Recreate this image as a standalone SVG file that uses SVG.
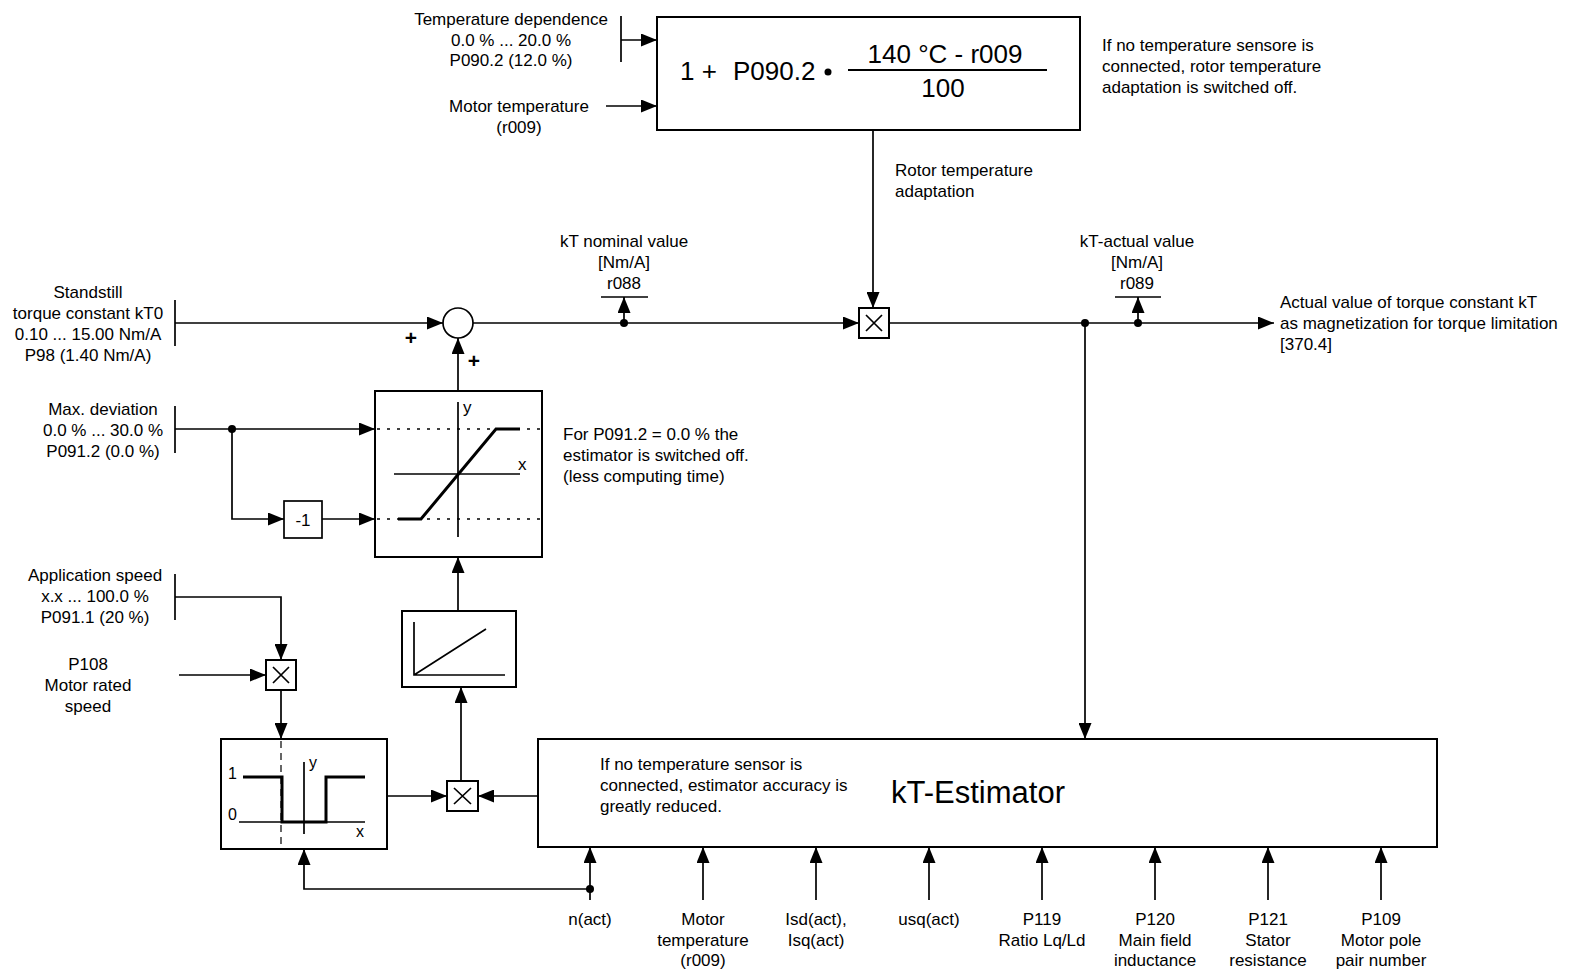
<svg xmlns="http://www.w3.org/2000/svg" width="1572" height="972" viewBox="0 0 1572 972">
<style>
text{font-family:"Liberation Sans",Arial,sans-serif;font-size:17px;fill:#000}
.c{text-anchor:middle}
.ln{stroke:#000;stroke-width:1.7;fill:none}
.bx{stroke:#000;stroke-width:2;fill:#fff}
.tk{stroke:#000;stroke-width:3;fill:none}
.dt{stroke:#000;stroke-width:1.5;stroke-dasharray:3,7;fill:none}
.ds{stroke:#000;stroke-width:1.2;stroke-dasharray:7,5;fill:none}
.pl{font-size:21px;font-weight:bold}
</style>
<defs>
<marker id="ah" viewBox="0 0 16 13" refX="16" refY="6.5" markerWidth="16" markerHeight="13" orient="auto" markerUnits="userSpaceOnUse"><path d="M0,0 L16,6.5 L0,13 z" fill="#000"/></marker>
</defs>
<rect width="1572" height="972" fill="#fff"/>

<g id="formula">
<rect class="bx" x="657" y="17" width="423" height="113"/>
<text x="680" y="80" style="font-size:26px">1 +</text>
<text x="733" y="80" style="font-size:26px">P090.2</text>
<circle cx="828" cy="72" r="3.5" fill="#000"/>
<line class="ln" x1="848" y1="70" x2="1047" y2="70" style="stroke-width:2"/>
<text x="945" y="63" class="c" style="font-size:26px">140 °C - r009</text>
<text x="943" y="97" class="c" style="font-size:26px">100</text>
</g>
<g id="formula-note">
<text x="1102" y="51">If no temperature sensore is</text>
<text x="1102" y="72">connected, rotor temperature</text>
<text x="1102" y="93">adaptation is switched off.</text>
</g>
<g id="temp-dependence">
<text x="511" y="25" class="c">Temperature dependence</text>
<text x="511" y="46" class="c">0.0 % ... 20.0 %</text>
<text x="511" y="66" class="c">P090.2 (12.0 %)</text>
<line class="ln" x1="621" y1="16" x2="621" y2="62"/>
</g>
<g id="motor-temp-in">
<text x="519" y="112" class="c">Motor temperature</text>
<text x="519" y="133" class="c">(r009)</text>
</g>
<g id="rotor-label">
<text x="895" y="176">Rotor temperature</text>
<text x="895" y="197">adaptation</text>
</g>

<g id="standstill">
<text x="88" y="298" class="c">Standstill</text>
<text x="88" y="319" class="c">torque constant kT0</text>
<text x="88" y="340" class="c">0.10 ... 15.00 Nm/A</text>
<text x="88" y="361" class="c">P98 (1.40 Nm/A)</text>
<line class="ln" x1="175" y1="300" x2="175" y2="346"/>
</g>
<g id="sum">
<circle cx="458" cy="323" r="15" class="bx" style="stroke-width:1.7"/>
<text x="411" y="345" class="c pl">+</text>
<text x="474" y="368" class="c pl">+</text>
</g>
<g id="mult-rotor">
<rect class="bx" x="859" y="308" width="30" height="30"/>
<path class="ln" d="M866,315 L882,331 M882,315 L866,331"/>
</g>
<g id="kt-nominal">
<text x="624" y="247" class="c">kT nominal value</text>
<text x="624" y="268" class="c">[Nm/A]</text>
<text x="624" y="289" class="c">r088</text>
<line class="ln" x1="601" y1="297" x2="648" y2="297"/>
</g>
<g id="kt-actual">
<text x="1137" y="247" class="c">kT-actual value</text>
<text x="1137" y="268" class="c">[Nm/A]</text>
<text x="1137" y="289" class="c">r089</text>
<line class="ln" x1="1115" y1="297" x2="1161" y2="297"/>
</g>
<g id="output-label">
<text x="1280" y="308">Actual value of torque constant kT</text>
<text x="1280" y="329">as magnetization for torque limitation</text>
<text x="1280" y="350">[370.4]</text>
</g>

<g id="max-dev">
<text x="103" y="415" class="c">Max. deviation</text>
<text x="103" y="436" class="c">0.0 % ... 30.0 %</text>
<text x="103" y="457" class="c">P091.2 (0.0 %)</text>
<line class="ln" x1="175" y1="406" x2="175" y2="453"/>
</g>
<g id="neg">
<rect class="bx" x="284" y="501" width="38" height="37" style="stroke-width:1.7"/>
<text x="303" y="526" class="c">-1</text>
</g>
<g id="limiter">
<rect class="bx" x="375" y="391" width="167" height="166"/>
<line class="dt" x1="377" y1="429" x2="540" y2="429"/>
<line class="dt" x1="377" y1="519" x2="540" y2="519"/>
<line class="ln" x1="458" y1="402" x2="458" y2="537"/>
<line class="ln" x1="394" y1="474" x2="520" y2="474"/>
<polyline class="tk" points="398,519 421,519 496,429 520,429"/>
<text x="463" y="413">y</text>
<text x="518" y="470">x</text>
</g>
<g id="limiter-note">
<text x="563" y="440">For P091.2 = 0.0 % the</text>
<text x="563" y="461">estimator is switched off.</text>
<text x="563" y="482">(less computing time)</text>
</g>

<g id="app-speed">
<text x="95" y="581" class="c">Application speed</text>
<text x="95" y="602" class="c">x.x ... 100.0 %</text>
<text x="95" y="623" class="c">P091.1 (20 %)</text>
<line class="ln" x1="175" y1="574" x2="175" y2="620"/>
</g>
<g id="p108">
<text x="88" y="670" class="c">P108</text>
<text x="88" y="691" class="c">Motor rated</text>
<text x="88" y="712" class="c">speed</text>
</g>
<g id="mult-speed">
<rect class="bx" x="266" y="660" width="30" height="30"/>
<path class="ln" d="M273,667 L289,683 M289,667 L273,683"/>
</g>
<g id="ramp">
<rect class="bx" x="402" y="611" width="114" height="76"/>
<path class="ln" d="M414,622 L414,675 L505,675 M414,675 L486,629"/>
</g>
<g id="threshold">
<rect class="bx" x="221" y="739" width="166" height="110"/>
<line class="ds" x1="281" y1="741" x2="281" y2="848"/>
<line class="ln" x1="304" y1="762" x2="304" y2="834"/>
<line class="ln" x1="239" y1="822" x2="365" y2="822"/>
<polyline class="tk" points="243,777 282,777 282,822 326,822 326,777 365,777"/>
<text x="228" y="779" style="font-size:16px">1</text>
<text x="228" y="820" style="font-size:16px">0</text>
<text x="309" y="768" style="font-size:16px">y</text>
<text x="356" y="837" style="font-size:16px">x</text>
</g>
<g id="mult-out">
<rect class="bx" x="447" y="781" width="31" height="30"/>
<path class="ln" d="M454,788 L471,804 M471,788 L454,804"/>
</g>
<g id="estimator">
<rect class="bx" x="538" y="739" width="899" height="108"/>
<text x="600" y="770">If no temperature sensor is</text>
<text x="600" y="791">connected, estimator accuracy is</text>
<text x="600" y="812">greatly reduced.</text>
<text x="891" y="803" style="font-size:31px">kT-Estimator</text>
</g>
<g id="inputs">
<text x="590" y="925" class="c">n(act)</text>
<text x="703" y="925" class="c">Motor</text>
<text x="703" y="946" class="c">temperature</text>
<text x="703" y="966" class="c">(r009)</text>
<text x="816" y="925" class="c">Isd(act),</text>
<text x="816" y="946" class="c">Isq(act)</text>
<text x="929" y="925" class="c">usq(act)</text>
<text x="1042" y="925" class="c">P119</text>
<text x="1042" y="946" class="c">Ratio Lq/Ld</text>
<text x="1155" y="925" class="c">P120</text>
<text x="1155" y="946" class="c">Main field</text>
<text x="1155" y="966" class="c">inductance</text>
<text x="1268" y="925" class="c">P121</text>
<text x="1268" y="946" class="c">Stator</text>
<text x="1268" y="966" class="c">resistance</text>
<text x="1381" y="925" class="c">P109</text>
<text x="1381" y="946" class="c">Motor pole</text>
<text x="1381" y="966" class="c">pair number</text>
</g>

<g id="connectors" class="ln">
<line x1="621" y1="40" x2="657" y2="40" marker-end="url(#ah)"/>
<line x1="606" y1="106" x2="657" y2="106" marker-end="url(#ah)"/>
<line x1="873" y1="130" x2="873" y2="308" marker-end="url(#ah)"/>
<line x1="175" y1="323" x2="443" y2="323" marker-end="url(#ah)"/>
<line x1="473" y1="323" x2="859" y2="323" marker-end="url(#ah)"/>
<line x1="624" y1="323" x2="624" y2="297" marker-end="url(#ah)"/>
<line x1="889" y1="323" x2="1274" y2="323" marker-end="url(#ah)"/>
<line x1="1138" y1="323" x2="1138" y2="297" marker-end="url(#ah)"/>
<line x1="1085" y1="323" x2="1085" y2="739" marker-end="url(#ah)"/>
<line x1="458" y1="391" x2="458" y2="338" marker-end="url(#ah)"/>
<line x1="175" y1="429" x2="375" y2="429" marker-end="url(#ah)"/>
<polyline points="232,429 232,519 284,519" marker-end="url(#ah)"/>
<line x1="322" y1="519" x2="375" y2="519" marker-end="url(#ah)"/>
<line x1="458" y1="611" x2="458" y2="557" marker-end="url(#ah)"/>
<polyline points="175,597 281,597 281,660" marker-end="url(#ah)"/>
<line x1="179" y1="675" x2="266" y2="675" marker-end="url(#ah)"/>
<line x1="281" y1="690" x2="281" y2="739" marker-end="url(#ah)"/>
<line x1="387" y1="796" x2="447" y2="796" marker-end="url(#ah)"/>
<line x1="538" y1="796" x2="478" y2="796" marker-end="url(#ah)"/>
<line x1="461" y1="781" x2="461" y2="687" marker-end="url(#ah)"/>
<polyline points="590,889 304,889 304,849" marker-end="url(#ah)"/>
<line x1="590" y1="900" x2="590" y2="847" marker-end="url(#ah)"/>
<line x1="703" y1="900" x2="703" y2="847" marker-end="url(#ah)"/>
<line x1="816" y1="900" x2="816" y2="847" marker-end="url(#ah)"/>
<line x1="929" y1="900" x2="929" y2="847" marker-end="url(#ah)"/>
<line x1="1042" y1="900" x2="1042" y2="847" marker-end="url(#ah)"/>
<line x1="1155" y1="900" x2="1155" y2="847" marker-end="url(#ah)"/>
<line x1="1268" y1="900" x2="1268" y2="847" marker-end="url(#ah)"/>
<line x1="1381" y1="900" x2="1381" y2="847" marker-end="url(#ah)"/>
<g fill="#000" stroke="none">
<circle cx="624" cy="323" r="4"/>
<circle cx="1138" cy="323" r="4"/>
<circle cx="1085" cy="323" r="4"/>
<circle cx="232" cy="429" r="4"/>
<circle cx="590" cy="889" r="4"/>
</g>
</g>
</svg>
